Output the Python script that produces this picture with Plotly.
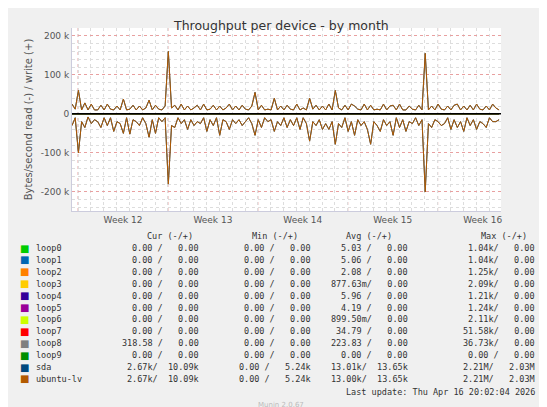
import plotly.graph_objects as go

write_k = [25,12,60,10, 28,10,25,10, 10,22,10,25, 12,10,20,10, 38,10,12,22, 10,20,10,15,
           35,10,22,12, 10,20,160,15, 22,10,25,10, 20,10,15,22, 10,25,10,12, 22,10,20,10,
           15,25,10,20, 10,22,12,10, 20,55,10,22, 10,12,10,40, 10,20,10,22, 12,10,25,10,
           15,10,40,12, 22,10,20,10, 25,10,60,15, 10,22,10,25, 20,12,10,25, 10,22,10,12,
           10,25,10,20, 22,10,25,10, 10,20,12,10, 22,10,155,10, 20,10,25,12, 10,20,10,22,
           25,10,20,10, 22,10,25,12, 10,20,10,25, 15,10]
read_k = [30,10,100,20, 35,8,25,15, 20,35,10,30, 10,45,20,25, 50,10,52,15, 20,30,10,25,
          60,15,50,10, 20,10,180,30, 35,10,25,15, 40,15,30,20, 25,10,45,15, 30,10,55,15,
          20,40,15,25, 15,30,20,10, 25,55,15,35, 10,20,15,45, 20,30,10,35, 15,30,10,40,
          10,25,70,20, 30,15,40,25, 40,20,78,25, 35,10,45,20, 55,15,30,20, 40,78,20,30,
          45,15,30,20, 55,10,35,15, 45,20,25,10, 30,15,200,25, 35,15,20,30, 25,10,40,15,
          35,20,45,10, 30,15,40,20, 25,35,10,20, 20,15]
days = [i * 0.25 for i in range(len(write_k))]
week_starts = [0.47, 7.47, 14.47, 21.47, 28.47]
week_labels = ["Week 12", "Week 13", "Week 14", "Week 15", "Week 16"]

names = ["loop0","loop1","loop2","loop3","loop4","loop5","loop6","loop7","loop8","loop9","sda","ubuntu-lv"]
colors = ["#00cc00","#0066b3","#ff8000","#ffcc00","#330099","#990099","#ccff00","#ff0000","#808080","#008f00","#00487d","#b35a00"]
cur = ["0.00 /   0.00"]*8 + ["318.58 /   0.00", "0.00 /   0.00", "2.67k/  10.09k", "2.67k/  10.09k"]
mins = ["0.00 /   0.00"]*10 + ["0.00 /   5.24k", "0.00 /   5.24k"]
avgs = ["5.03 /   0.00","5.06 /   0.00","2.08 /   0.00","877.63m/   0.00","5.96 /   0.00","4.19 /   0.00",
        "899.50m/   0.00","34.79 /   0.00","223.83 /   0.00","0.00 /   0.00","13.01k/  13.65k","13.00k/  13.65k"]
maxs = ["1.04k/   0.00","1.04k/   0.00","1.25k/   0.00","2.09k/   0.00","1.21k/   0.00","1.24k/   0.00",
        "2.11k/   0.00","51.58k/   0.00","36.73k/   0.00","0.00 /   0.00","2.21M/   2.03M","2.21M/   2.03M"]

fig = go.Figure()
for n, c in zip(names[:10], colors[:10]):
    fig.add_trace(go.Scatter(x=[days[0], days[-1]], y=[0, 0], mode="lines", line=dict(color=c, width=1), showlegend=False))
for n, c in zip(names[10:], colors[10:]):
    fig.add_trace(go.Scatter(x=days, y=[-v*1000 for v in read_k], mode="lines", line=dict(color=c, width=1), showlegend=False))
    fig.add_trace(go.Scatter(x=days, y=[v*1000 for v in write_k], mode="lines", line=dict(color=c, width=1), showlegend=False))

shapes = [dict(type="line", xref="x", yref="paper", x0=w, x1=w, y0=0, y1=1,
               line=dict(color="#e8a0a0", width=1, dash="dot"), layer="below") for w in week_starts]
shapes.append(dict(type="line", xref="paper", yref="y", x0=0, x1=1, y0=0, y1=0, line=dict(color="black", width=1.5)))

ann = []
mono = dict(family="DejaVu Sans Mono", size=8.5, color="#333")
ann.append(dict(text="Throughput per device - by month", x=273, y=18, showarrow=False, font=dict(family="DejaVu Sans", size=12.5, color="#333")))
ann.append(dict(text="RRDTOOL / TOBI OETIKER", x=538, y=60, textangle=90, showarrow=False, font=dict(family="DejaVu Sans", size=7, color="#ccc")))
for t, xc in zip(["Cur (-/+)", "Min (-/+)", "Avg (-/+)", "Max (-/+)"], [162, 267, 361, 496]):
    ann.append(dict(text=t, x=xc, y=228, showarrow=False, font=mono))
for i, n in enumerate(names):
    y = 240 + i*11.9
    ann.append(dict(text="■", x=16, y=y, showarrow=False, font=dict(size=10, color=colors[i])))
    ann.append(dict(text=n, x=26, y=y, xanchor="left", showarrow=False, font=mono))
    for vals, xr in [(cur, 193), (mins, 305), (avgs, 402), (maxs, 529)]:
        ann.append(dict(text=vals[i].replace(" ", "&nbsp;"), x=xr, y=y, xanchor="right", showarrow=False, font=mono))
ann.append(dict(text="Last update: Thu Apr 16 20:02:04 2026", x=529, y=384, xanchor="right", showarrow=False, font=mono))
ann.append(dict(text="Munin 2.0.67", x=273, y=397, showarrow=False, font=dict(family="DejaVu Sans", size=7, color="#bbb")))
for a in ann:
    a.update(xref="paper", yref="paper", yanchor="middle")
    a.setdefault("xanchor", "center")
    a["x"] = (a["x"] - 64) / (493 - 64)
    a["y"] = (203 - a["y"]) / (203 - 20)

fig.update_layout(
    width=547, height=407, margin=dict(l=64, r=54, t=20, b=204, autoexpand=False),
    paper_bgcolor="#f0f0f0", plot_bgcolor="white",
    shapes=shapes, annotations=ann,
    font=dict(family="DejaVu Sans", size=9, color="#555"),
    xaxis=dict(range=[0, 33.4], tickvals=[w + 3.5 for w in week_starts], ticktext=week_labels,
               showgrid=False, zeroline=False, ticks="", showline=True, linecolor="#ccd", automargin=False,
               minor=dict(tick0=0.47, dtick=1, showgrid=True, gridcolor="#ddd", griddash="dot")),
    yaxis=dict(range=[-249000, 220000], tickvals=[-200000, -100000, 0, 100000, 200000],
               ticktext=["-200 k", "-100 k", "0", "100 k", "200 k"], showgrid=True, gridcolor="#e8a0a0",
               griddash="dot", zeroline=False, showline=True, linecolor="#ccd", automargin=False,
               title=dict(text="Bytes/second read (-) / write (+)", font=dict(size=10, color="#555"), standoff=6),
               minor=dict(dtick=20000, showgrid=True, gridcolor="#ddd", griddash="dot")),
)
fig.write_html("out.html")
